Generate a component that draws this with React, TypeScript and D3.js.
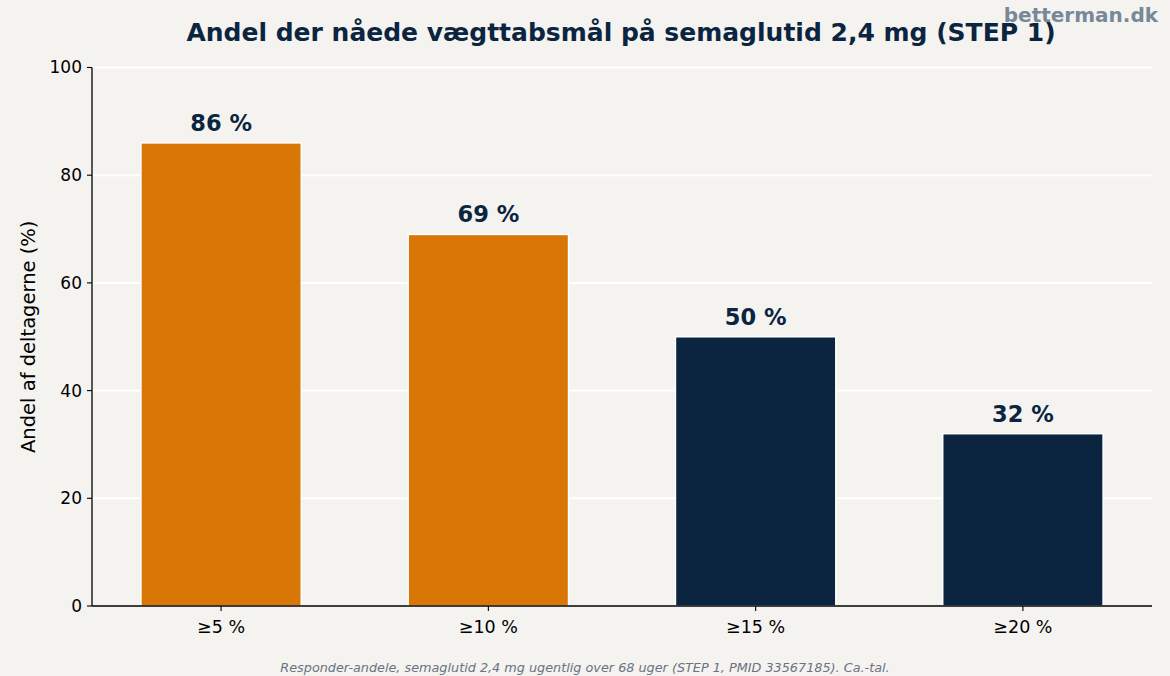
import React from 'react';
import * as d3 from 'd3';

const categories = ['≥5 %', '≥10 %', '≥15 %', '≥20 %'];
const shares = [86, 69, 50, 32];
const barColors = ['#d97706', '#d97706', '#0b2540', '#0b2540'];
const yTicks = [0, 20, 40, 60, 80, 100];

const W = 1170;
const H = 676;
const margin = { top: 67.5, right: 18, bottom: 70, left: 92 };
const font = '"DejaVu Sans", sans-serif';
const navy = '#0b2540';

export default function App() {
  const x = d3.scaleBand<string>()
    .domain(categories)
    .range([margin.left, W - margin.right])
    .paddingInner(0.4)
    .paddingOuter(0.183);

  const y = d3.scaleLinear()
    .domain([0, 100])
    .range([H - margin.bottom, margin.top]);

  const x0 = margin.left;
  const x1 = W - margin.right;
  const y0 = y(0);

  return (
    <svg width={W} height={H} style={{ display: 'block', position: 'absolute', left: 0, top: 0 }} fontFamily={font}>
      <rect width={W} height={H} fill="#f4f3f0" />

      {/* grid */}
      {yTicks.filter(t => t > 0).map(t => (
        <line key={t} x1={x0} x2={x1} y1={y(t)} y2={y(t)} stroke="#ffffff" strokeWidth={2} />
      ))}

      {/* bars */}
      {categories.map((c, i) => (
        <g key={c}>
          <rect
            x={x(c)}
            y={y(shares[i])}
            width={x.bandwidth()}
            height={y0 - y(shares[i])}
            fill={barColors[i]}
            stroke="#ffffff"
            strokeWidth={1.5}
          />
          <text
            x={x(c)! + x.bandwidth() / 2}
            y={y(shares[i]) - 12}
            textAnchor="middle"
            fontSize={22.5}
            fontWeight="bold"
            fill={navy}
          >{shares[i]} %</text>
        </g>
      ))}

      {/* axes */}
      <line x1={x0} x2={x0} y1={y(100)} y2={y0} stroke="#000" strokeWidth={1.3} />
      <line x1={x0} x2={x1} y1={y0} y2={y0} stroke="#000" strokeWidth={1.3} />
      {yTicks.map(t => (
        <g key={t}>
          <line x1={x0 - 5} x2={x0} y1={y(t)} y2={y(t)} stroke="#000" strokeWidth={1.1} />
          <text x={x0 - 10} y={y(t)} dy="0.35em" textAnchor="end" fontSize={17} fill="#000">{t}</text>
        </g>
      ))}
      {categories.map(c => {
        const cx = x(c)! + x.bandwidth() / 2;
        return (
          <g key={c}>
            <line x1={cx} x2={cx} y1={y0} y2={y0 + 5} stroke="#000" strokeWidth={1.1} />
            <text x={cx} y={y0 + 27} textAnchor="middle" fontSize={17.5} fill="#000">{c}</text>
          </g>
        );
      })}

      <text
        transform={`translate(35, ${(y(100) + y0) / 2}) rotate(-90)`}
        textAnchor="middle"
        fontSize={19.5}
        fill="#000"
      >Andel af deltagerne (%)</text>

      <text x={621} y={41} textAnchor="middle" fontSize={25} fontWeight="bold" fill={navy}>
        Andel der nåede vægttabsmål på semaglutid 2,4 mg (STEP 1)
      </text>
      <text x={1158} y={22} textAnchor="end" fontSize={20} fontWeight="bold" fill="#778899">betterman.dk</text>

      <text x={585} y={672} textAnchor="middle" fontSize={12.8} fontStyle="italic" fill="#6b7280">
        Responder-andele, semaglutid 2,4 mg ugentlig over 68 uger (STEP 1, PMID 33567185). Ca.-tal.
      </text>
    </svg>
  );
}
